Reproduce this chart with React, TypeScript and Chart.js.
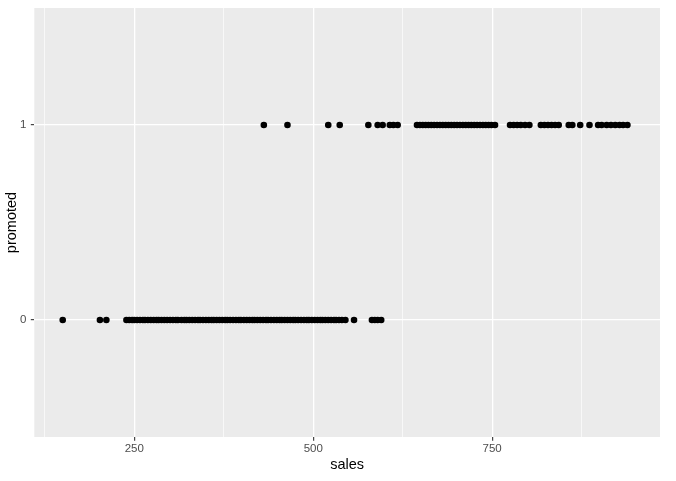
import React, { useEffect, useRef } from "react";
import { Chart, registerables } from "chart.js";

Chart.register(...registerables);

// sales of employees not promoted (promoted = 0)
const salesNotPromoted = [
  150, 202, 211, 239, 243, 247, 250, 254, 258, 262, 265, 269, 273, 277, 281, 284,
  288, 292, 296, 300, 304, 308, 311, 316, 320, 323, 327, 331, 335, 339, 342, 346,
  350, 354, 358, 361, 365, 369, 373, 377, 380, 384, 388, 392, 396, 399, 403, 407,
  411, 415, 418, 422, 426, 430, 434, 437, 441, 445, 449, 453, 456, 460, 464, 468,
  472, 475, 479, 483, 487, 491, 494, 498, 502, 506, 510, 513, 517, 521, 525, 529,
  532, 536, 540, 545, 557, 582, 586, 590, 595,
];

// sales of employees promoted (promoted = 1)
const salesPromoted = [
  431, 464, 521, 537, 577, 590, 597, 607, 612, 618, 645, 649, 653, 657, 661, 665,
  669, 673, 677, 681, 685, 689, 693, 697, 701, 705, 709, 713, 717, 721, 725, 729,
  733, 737, 741, 745, 749, 754, 775, 780, 785, 790, 796, 802, 818, 823, 828, 833,
  838, 843, 857, 862, 873, 886, 898, 903, 910, 916, 922, 928, 933, 939,
];

const xTickValues = [125, 250, 375, 500, 625, 750, 875];
const xMajorTicks = [250, 500, 750];
const yTickValues = [0, 1];
const xLimits = [110.3, 984.5];
const yLimits = [-0.6, 1.6];

const panelBg = {
  id: "panelBg",
  beforeDraw(chart: any) {
    const { ctx, chartArea } = chart;
    ctx.save();
    ctx.fillStyle = "#EBEBEB";
    ctx.fillRect(chartArea.left, chartArea.top, chartArea.right - chartArea.left, chartArea.bottom - chartArea.top);
    ctx.restore();
  },
};

export default function App() {
  const ref = useRef<HTMLCanvasElement | null>(null);

  useEffect(() => {
    document.body.style.margin = "0";
    const canvas = ref.current;
    if (!canvas) return;
    const points = [
      ...salesNotPromoted.map((s) => ({ x: s, y: 0 })),
      ...salesPromoted.map((s) => ({ x: s, y: 1 })),
    ];
    const font = "'Liberation Sans', Arial, sans-serif";
    const chart = new Chart(canvas, {
      type: "scatter",
      data: {
        datasets: [
          {
            data: points,
            backgroundColor: "#000000",
            borderWidth: 0,
            pointRadius: 3.3,
            pointHoverRadius: 3.3,
          },
        ],
      },
      options: {
        responsive: false,
        animation: false,
        events: [],
        layout: { padding: { top: 8, right: 16, left: 0, bottom: 0 } },
        plugins: { legend: { display: false }, tooltip: { enabled: false } },
        scales: {
          x: {
            type: "linear",
            min: xLimits[0],
            max: xLimits[1],
            afterBuildTicks: (scale: any) => {
              scale.ticks = xTickValues.map((v) => ({ value: v }));
            },
            afterFit: (scale: any) => {
              scale.height = 44;
              scale.paddingLeft = 0;
              scale.paddingRight = 0;
            },
            border: { display: false },
            grid: {
              color: "#FFFFFF",
              lineWidth: (c: any) => (xMajorTicks.includes(c.tick?.value) ? 1.3 : 0.65),
              tickColor: (c: any) => (xMajorTicks.includes(c.tick?.value) ? "#333333" : "rgba(0,0,0,0)"),
              tickLength: 3.7,
              tickWidth: 1.1,
            },
            ticks: {
              autoSkip: false,
              maxRotation: 0,
              padding: 1.5,
              color: "#4D4D4D",
              font: { family: font, size: 11.5 },
              callback: (v: any) => (xMajorTicks.includes(Number(v)) ? String(v) : ""),
            },
            title: {
              display: true,
              text: "sales",
              color: "#000000",
              font: { family: font, size: 14.5 },
              padding: { top: 0, bottom: 7.3 },
            },
          },
          y: {
            type: "linear",
            min: yLimits[0],
            max: yLimits[1],
            afterBuildTicks: (scale: any) => {
              scale.ticks = yTickValues.map((v) => ({ value: v }));
            },
            afterFit: (scale: any) => {
              scale.width = 34.3;
              scale.paddingTop = 0;
              scale.paddingBottom = 0;
            },
            border: { display: false },
            grid: {
              color: "#FFFFFF",
              lineWidth: 1.3,
              tickColor: "#333333",
              tickLength: 3.5,
              tickWidth: 1.1,
            },
            ticks: {
              autoSkip: false,
              padding: 4.5,
              color: "#4D4D4D",
              font: { family: font, size: 11.5 },
              callback: (v: any) => String(v),
            },
            title: {
              display: true,
              text: "promoted",
              color: "#000000",
              font: { family: font, size: 14.5 },
              padding: { top: 3.3, bottom: 0 },
            },
          },
        },
      },
      plugins: [panelBg],
    });
    return () => chart.destroy();
  }, []);

  return (
    <div style={{ position: "absolute", left: 0, top: 0, width: 676, height: 481, background: "#FFFFFF" }}>
      <canvas ref={ref} width={676} height={481} style={{ display: "block", width: 676, height: 481 }} />
    </div>
  );
}
